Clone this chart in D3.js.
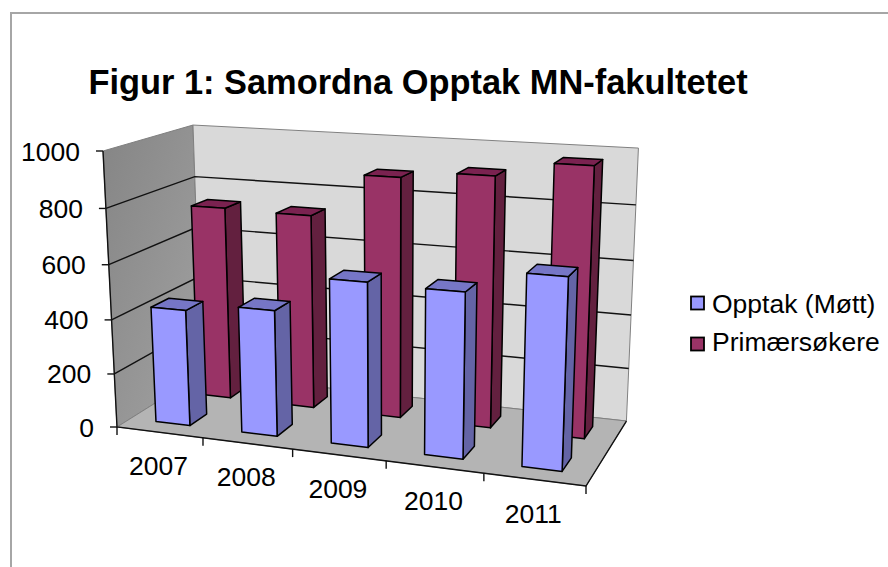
<!DOCTYPE html>
<html>
<head>
<meta charset="utf-8">
<title>Figur 1</title>
<script src="https://cdn.jsdelivr.net/npm/d3@7"></script>
<style>
    html, body { margin: 0; padding: 0; background: #fff; }
    svg { display: block; }
    text { font-family: "Liberation Sans", Arial, sans-serif; fill: #000; }
</style>
</head>
<body>
<svg id="chart" width="888" height="567"></svg>
<script>
// Chart data
const years = ['2007', '2008', '2009', '2010', '2011'];
const seriesNames = ['Opptak (Møtt)', 'Primærsøkere'];
const opptak = [430, 460, 590, 585, 665];
const primaersokere = [735, 730, 890, 915, 970];
const valueTicks = [0, 200, 400, 600, 800, 1000];

const seriesValues = [opptak, primaersokere];
const colors = [
    { front: '#9999ff', side: '#6464a6', top: '#7676c6' },
    { front: '#993366', side: '#63203f', top: '#7a2250' }
];

const svg = d3.select('#chart');

// Scales all give unit cube coordinates, the camera below does the rest
const uScale = d3.scaleBand().domain(years).range([0, 1]).paddingInner(0.6).paddingOuter(0.3);
const dScale = d3.scaleBand().domain(seriesNames).range([0, 1]).paddingInner(0.6).paddingOuter(0.3);
const catStep = d3.scalePoint().domain(d3.range(years.length + 1)).range([0, 1]);
const vScale = d3.scaleLinear().domain([0, 1000]).range([0, 1]);

// Perspective camera: origin corner, end of each axis and its weight
const origin = [117, 427];
const uAxis = { p: [586, 486], w: 0.898 };
const vAxis = { p: [103, 151], w: 0.9512 };
const dAxis = { p: [201.6, 374], w: 1.1137 };

function project(u, v, d) {
    const den = 1 + u * (uAxis.w - 1) + v * (vAxis.w - 1) + d * (dAxis.w - 1);
    return [0, 1].map(i => (origin[i]
        + u * (uAxis.w * uAxis.p[i] - origin[i])
        + v * (vAxis.w * vAxis.p[i] - origin[i])
        + d * (dAxis.w * dAxis.p[i] - origin[i])) / den);
}

const line = d3.line();
const closed = pts => line(pts) + 'Z';

// Chart area border
svg.append('rect')
    .attr('x', 11).attr('y', 13)
    .attr('width', 900).attr('height', 600)
    .attr('fill', '#fff')
    .attr('stroke', '#a6a6a6')
    .attr('stroke-width', 2);

// Left wall gradient
const grad = svg.append('defs').append('linearGradient')
    .attr('id', 'wallGrad')
    .attr('x1', 0).attr('y1', 0).attr('x2', 1).attr('y2', 1);
grad.append('stop').attr('offset', '0%').attr('stop-color', '#858585');
grad.append('stop').attr('offset', '100%').attr('stop-color', '#a2a2a2');

// Walls and floor
const walls = svg.append('g');
walls.append('path')
    .attr('d', closed([project(0, 0, 0), project(0, 1, 0), project(0, 1, 1), project(0, 0, 1)]))
    .attr('fill', 'url(#wallGrad)').attr('stroke', '#808080');
walls.append('path')
    .attr('d', closed([project(0, 0, 1), project(0, 1, 1), project(1, 1, 1), project(1, 0, 1)]))
    .attr('fill', '#d9d9d9').attr('stroke', '#808080');
walls.append('path')
    .attr('d', closed([project(0, 0, 0), project(1, 0, 0), project(1, 0, 1), project(0, 0, 1)]))
    .attr('fill', '#b4b4b4').attr('stroke', '#808080');

// Gridlines on both walls
svg.append('g')
    .selectAll('path')
    .data(valueTicks.slice(1, -1))
    .join('path')
    .attr('d', t => line([project(0, vScale(t), 0), project(0, vScale(t), 1), project(1, vScale(t), 1)]))
    .attr('fill', 'none')
    .attr('stroke', '#111')
    .attr('stroke-width', 1.4);

// Axis lines
const axes = svg.append('g').attr('fill', 'none').attr('stroke', '#111').attr('stroke-width', 1.4);
axes.append('path').attr('d', line([project(0, 1, 0), project(0, 0, 0), project(1, 0, 0), project(1, 0, 1)]));

// Value ticks and labels
valueTicks.forEach(t => {
    const p = project(0, vScale(t), 0);
    axes.append('line')
        .attr('x1', p[0]).attr('y1', p[1])
        .attr('x2', p[0] - 7).attr('y2', p[1]);
    svg.append('text')
        .attr('x', p[0] - 23)
        .attr('y', p[1] + 9.5)
        .attr('text-anchor', 'end')
        .style('font-size', '26.5px')
        .text(t);
});

// Category ticks
catStep.domain().forEach(i => {
    const p = project(catStep(i), 0, 0);
    axes.append('line')
        .attr('x1', p[0]).attr('y1', p[1])
        .attr('x2', p[0]).attr('y2', p[1] + 8);
});

// Category labels
years.forEach(y => {
    const p = project(uScale(y) + uScale.bandwidth() / 2, 0, 0);
    svg.append('text')
        .attr('x', p[0] - 1)
        .attr('y', p[1] + 43)
        .attr('text-anchor', 'middle')
        .style('font-size', '26.5px')
        .text(y);
});

// Bars, back row first so the front row paints over it
const barRows = [1, 0];
barRows.forEach(s => {
    const name = seriesNames[s];
    const d0 = dScale(name);
    const d1 = d0 + dScale.bandwidth();
    const bars = svg.append('g')
        .selectAll('g')
        .data(years.map((y, i) => ({ year: y, value: seriesValues[s][i] })))
        .join('g')
        .attr('stroke', '#000')
        .attr('stroke-width', 1.5)
        .attr('stroke-linejoin', 'round');

    const u0 = b => uScale(b.year);
    const u1 = b => uScale(b.year) + uScale.bandwidth();
    const v1 = b => vScale(b.value);

    bars.append('path')
        .attr('fill', colors[s].side)
        .attr('d', b => closed([project(u1(b), 0, d0), project(u1(b), v1(b), d0), project(u1(b), v1(b), d1), project(u1(b), 0, d1)]));
    bars.append('path')
        .attr('fill', colors[s].top)
        .attr('d', b => closed([project(u0(b), v1(b), d0), project(u1(b), v1(b), d0), project(u1(b), v1(b), d1), project(u0(b), v1(b), d1)]));
    bars.append('path')
        .attr('fill', colors[s].front)
        .attr('d', b => closed([project(u0(b), 0, d0), project(u1(b), 0, d0), project(u1(b), v1(b), d0), project(u0(b), v1(b), d0)]));
});

// Title
svg.append('text')
    .attr('x', 418)
    .attr('y', 94)
    .attr('text-anchor', 'middle')
    .style('font-size', '34.4px')
    .style('font-weight', 'bold')
    .text('Figur 1: Samordna Opptak MN-fakultetet');

// Legend
const legend = svg.append('g')
    .selectAll('g')
    .data(seriesNames)
    .join('g')
    .attr('transform', (d, i) => `translate(691,${296.5 + i * 41})`);
legend.append('rect')
    .attr('width', 13).attr('height', 13)
    .attr('fill', (d, i) => colors[i].front)
    .attr('stroke', '#000')
    .attr('stroke-width', 1.8);
legend.append('text')
    .attr('x', 21)
    .attr('y', (d, i) => 16 - i * 3)
    .style('font-size', '26.5px')
    .text(d => d);
</script>
</body>
</html>
